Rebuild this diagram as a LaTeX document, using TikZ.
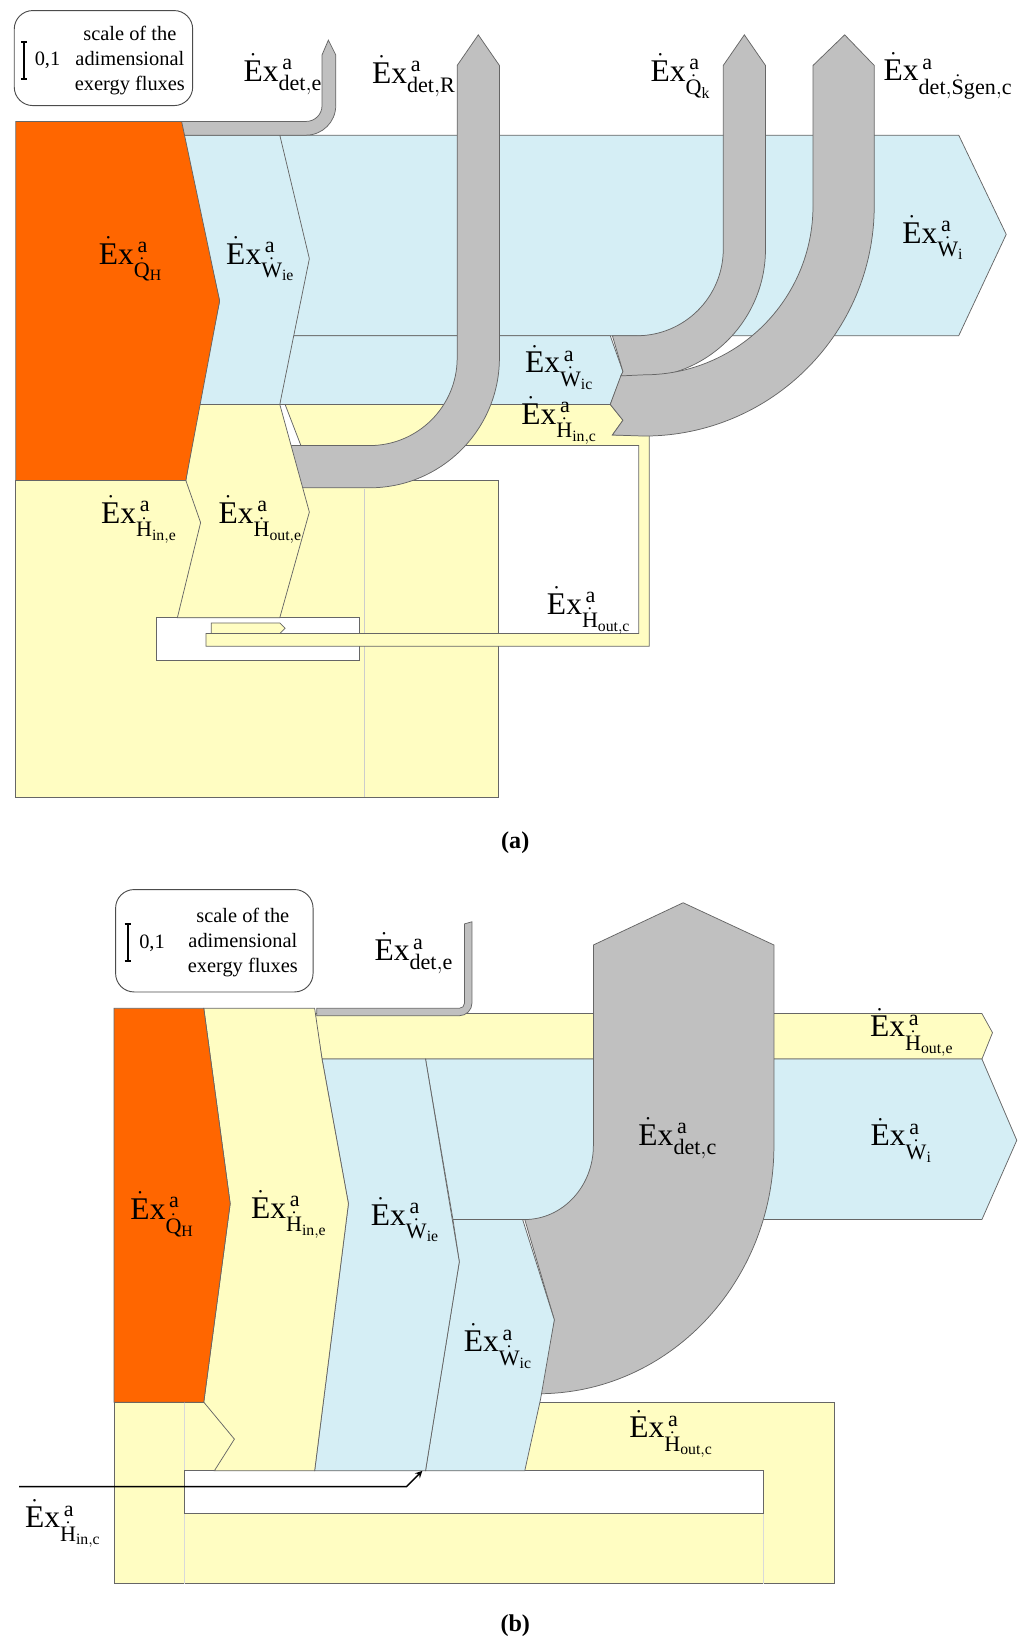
\documentclass[tikz,border=0pt]{standalone}
\usepackage{amsmath}
\usepackage{fontspec}
\setmainfont{Liberation Serif}
\usepackage{tikz}
\usetikzlibrary{calc}
\definecolor{exorange}{HTML}{FF6600}
\definecolor{exblue}{HTML}{D5EEF5}
\definecolor{exyellow}{HTML}{FFFDC2}
\definecolor{exgray}{HTML}{C0C0C0}
\tikzset{
	orangestyle/.style={fill=exorange,draw=black!60,line width=0.4pt},
	bluestyle/.style={fill=exblue,draw=black!60,line width=0.4pt},
	yellowstyle/.style={fill=exyellow,draw=black!60,line width=0.4pt},
	graystyle/.style={fill=exgray,draw=black!60,line width=0.4pt},
	whitestyle/.style={fill=white,draw=black!60,line width=0.4pt},
	labelstyle/.style={inner sep=0pt,font=\fontsize{17}{20}\selectfont},
	scalestyle/.style={rectangle,rounded corners=10pt,draw=black!70,line width=0.5pt,fill=white},
	captionstyle/.style={font=\fontsize{13}{15}\selectfont\bfseries}
}
\newcommand{\Ex}[1]{$\dot{\mathrm{E}}\mathrm{x}^{\,\mathrm{a}}_{#1}$}
\newcommand{\scaletext}{\fontsize{11}{13.5}\selectfont\begin{tabular}{@{}c@{}}scale of the\\adimensional\\exergy fluxes\end{tabular}}
\begin{document}
\begin{tikzpicture}[x=0.02cm,y=0.02cm]
	\useasboundingbox (0,0) rectangle (970,-1558);
	% (a)
	\node[scalestyle,minimum width=169*0.02cm,minimum height=90*0.02cm] (scalea) at (98,-55) {};
	\draw[line width=1pt] (23,-40) -- (23,-75) (20,-40) -- (26,-40) (20,-75) -- (26,-75);
	\node[font=\fontsize{11}{13}\selectfont] (unita) at (45,-57) {0,1};
	\node (scaletexta) at (123,-57) {\scaletext};
	\fill[exyellow,draw=black!60] (15,-455) rectangle (472,-755);
	\draw[black!20] (285,-463) -- (285,-470) (345,-463) -- (345,-755);
	\draw[whitestyle] (148,-585) rectangle (340,-625);
	\draw[yellowstyle] (200,-590) -- (265,-590) -- (270,-595) -- (265,-600) -- (200,-600) -- cycle;
	\draw[yellowstyle] (270,-383) -- (578,-383) -- (590,-398) -- (580,-412) -- (615,-412) -- (615,-612) -- (195,-612) -- (195,-600) -- (605,-600) -- (605,-422) -- (285,-422) -- cycle;
	\draw[bluestyle] (265,-128) -- (908,-128) -- (953,-222) -- (908,-318) -- (265,-318) -- cycle;
	\draw[bluestyle] (265,-318) -- (578,-318) -- (590,-352) -- (578,-383) -- (265,-383) -- cycle;
	\draw[bluestyle] (172,-128) -- (265,-128) -- (293,-245) -- (265,-383) -- (188,-383) -- (208,-285) -- cycle;
	\draw[graystyle] (172,-115) -- (290,-115) arc[start angle=-90,end angle=0,radius=15] -- (305,-52) -- (311,-38) -- (318,-52) -- (318,-100) arc[start angle=0,end angle=-90,radius=28] -- (172,-128) -- cycle;
	\draw[graystyle] (270,-422) -- (350,-422) arc[start angle=-90,end angle=0,radius=83] -- (433,-62) -- (453,-33) -- (473,-62) -- (473,-339) arc[start angle=0,end angle=-90,radius=123] -- (270,-462) -- cycle;
	\draw[graystyle] (580,-318) -- (603,-318) arc[start angle=-90,end angle=0,radius=82] -- (685,-62) -- (705,-33) -- (725,-62) -- (725,-236) arc[start angle=0,end angle=-90,radius=122] -- (588,-356) -- (590,-352) -- cycle;
	\draw[graystyle] (588,-356) -- (610,-355) arc[start angle=-90,end angle=0,radius=160] -- (770,-62) -- (800,-33) -- (828,-62) -- (828,-195) arc[start angle=0,end angle=-90,radius=218] -- (580,-412) -- (590,-398) -- (578,-383) -- cycle;
	\draw[yellowstyle] (188,-383) -- (265,-383) -- (293,-485) -- (265,-585) -- (168,-585) -- (190,-495) -- (176,-455) -- cycle;
	\draw[orangestyle] (15,-115) -- (172,-115) -- (208,-285) -- (176,-455) -- (15,-455) -- cycle;
	\node[labelstyle] (deta) at (268,-70) {\Ex{\mathrm{det,e}}};
	\node[labelstyle] (detRa) at (392,-72) {\Ex{\mathrm{det,R}}};
	\node[labelstyle] (Qka) at (645,-72) {\Ex{\dot{\mathrm{Q}}_\mathrm{k}}};
	\node[labelstyle] (Sgena) at (898,-72) {\Ex{\mathrm{det},\dot{\mathrm{S}}\mathrm{gen,c}}};
	\node[labelstyle] (QHa) at (124,-245) {\Ex{\dot{\mathrm{Q}}_\mathrm{H}}};
	\node[labelstyle] (Wiea) at (247,-245) {\Ex{\dot{\mathrm{W}}_\mathrm{ie}}};
	\node[labelstyle] (Wia) at (884,-225) {\Ex{\dot{\mathrm{W}}_\mathrm{i}}};
	\node[labelstyle] (Wica) at (530,-348) {\Ex{\dot{\mathrm{W}}_\mathrm{ic}}};
	\node[labelstyle] (Hinca) at (530,-398) {\Ex{\dot{\mathrm{H}}_\mathrm{in,c}}};
	\node[labelstyle] (Hinea) at (132,-492) {\Ex{\dot{\mathrm{H}}_\mathrm{in,e}}};
	\node[labelstyle] (Houtea) at (247,-492) {\Ex{\dot{\mathrm{H}}_\mathrm{out,e}}};
	\node[labelstyle] (Houtca) at (558,-578) {\Ex{\dot{\mathrm{H}}_\mathrm{out,c}}};
	\node[captionstyle] (capa) at (488,-798) {(a)};
	% (b)
	\node[scalestyle,minimum width=187*0.02cm,minimum height=97*0.02cm] (scaleb) at (203,-891) {};
	\draw[line width=1pt] (121,-875) -- (121,-910) (118,-875) -- (124,-875) (118,-910) -- (124,-910);
	\node[font=\fontsize{11}{13}\selectfont] (unitb) at (144,-893) {0,1};
	\node (scaletextb) at (230,-893) {\scaletext};
	\draw[yellowstyle] (108,-1328) rectangle (790,-1500);
	\draw[black!15] (175,-1328) -- (175,-1500) (723,-1433) -- (723,-1500);
	\draw[whitestyle] (175,-1393) rectangle (723,-1433);
	\draw[yellowstyle] (298,-960) -- (930,-960) -- (940,-978) -- (930,-1003) -- (305,-1003) -- cycle;
	\draw[bluestyle] (403,-1003) -- (930,-1003) -- (963,-1080) -- (930,-1155) -- (429,-1155) -- cycle;
	\draw[graystyle] (300,-955) -- (435,-955) arc[start angle=-90,end angle=0,radius=5] -- (440,-875) -- (447,-873) -- (447,-950) arc[start angle=0,end angle=-90,radius=12] -- (300,-962) -- cycle;
	\draw[graystyle] (562,-895) -- (647,-855) -- (733,-895) -- (733,-1085) arc[start angle=0,end angle=-90,x radius=223,y radius=235] -- (525,-1250) -- (497,-1155) arc[start angle=-90,end angle=0,x radius=65,y radius=70] -- cycle;
	\draw[bluestyle] (429,-1155) -- (495,-1155) -- (525,-1250) -- (512,-1325) -- (497,-1393) -- (403,-1393) -- (435,-1195) -- cycle;
	\draw[bluestyle] (305,-1003) -- (403,-1003) -- (435,-1195) -- (403,-1393) -- (298,-1393) -- (330,-1140) -- cycle;
	\draw[yellowstyle] (193,-955) -- (298,-955) -- (305,-1003) -- (330,-1140) -- (298,-1393) -- (203,-1393) -- (222,-1363) -- (193,-1328) -- (218,-1140) -- cycle;
	\draw[orangestyle] (108,-955) -- (193,-955) -- (218,-1140) -- (193,-1328) -- (108,-1328) -- cycle;
	\coordinate (Hinstart) at (18,-1408);
	\coordinate (Hinbend) at (385,-1408);
	\coordinate (Hinend) at (400,-1393);
	\draw[-stealth,line width=0.7pt] (Hinstart) -- (Hinbend) -- (Hinend);
	\node[labelstyle] (detb) at (392,-903) {\Ex{\mathrm{det,e}}};
	\node[labelstyle] (Houteb) at (864,-978) {\Ex{\dot{\mathrm{H}}_\mathrm{out,e}}};
	\node[labelstyle] (detcb) at (642,-1078) {\Ex{\mathrm{det,c}}};
	\node[labelstyle] (Wib) at (854,-1080) {\Ex{\dot{\mathrm{W}}_\mathrm{i}}};
	\node[labelstyle] (QHb) at (154,-1150) {\Ex{\dot{\mathrm{Q}}_\mathrm{H}}};
	\node[labelstyle] (Hineb) at (274,-1150) {\Ex{\dot{\mathrm{H}}_\mathrm{in,e}}};
	\node[labelstyle] (Wieb) at (384,-1155) {\Ex{\dot{\mathrm{W}}_\mathrm{ie}}};
	\node[labelstyle] (Wicb) at (472,-1275) {\Ex{\dot{\mathrm{W}}_\mathrm{ic}}};
	\node[labelstyle] (Houtcb) at (636,-1358) {\Ex{\dot{\mathrm{H}}_\mathrm{out,c}}};
	\node[labelstyle] (Hincb) at (60,-1443) {\Ex{\dot{\mathrm{H}}_\mathrm{in,c}}};
	\node[captionstyle] (capb) at (488,-1540) {(b)};
\end{tikzpicture}
\end{document}
